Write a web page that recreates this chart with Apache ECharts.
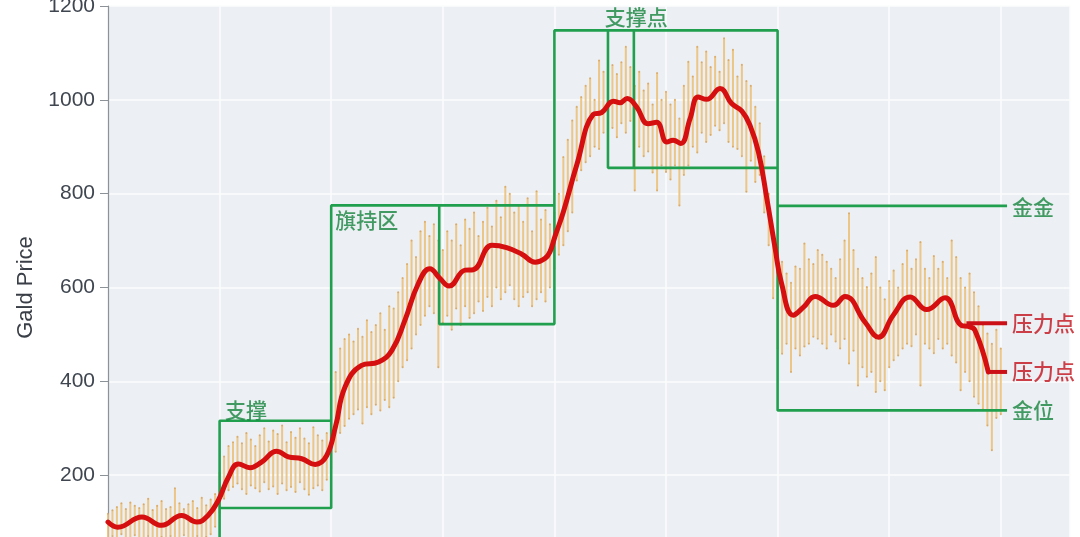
<!DOCTYPE html>
<html><head><meta charset="utf-8">
<script src="https://cdn.jsdelivr.net/npm/echarts@6/dist/echarts.min.js"></script>
<style>html,body{margin:0;padding:0;background:#fff}#c{width:1080px;height:537px}</style>
</head><body><div id="c"></div>
<script>
// ---- data ----
const candleHigh = [
118,125,132,140,128,142,135,130,138,150,126,135,145,128,132,172,140,128,138,145,130,152,136,148,160,
205,240,262,270,282,268,290,276,262,285,300,272,295,288,306,270,292,280,300,278,268,302,285,274,290,
360,420,470,490,500,485,512,495,530,505,520,545,510,560,555,590,620,650,700,665,720,740,710,735,700,
680,720,700,735,690,745,725,760,710,740,770,730,785,750,815,800,760,775,740,790,720,805,745,765,735,
760,800,878,915,956,985,1006,1030,1046,1000,1084,1060,1040,1074,1055,1080,1113,1070,1030,1060,1020,1035,990,1057,1000,
1017,990,1000,960,1030,1081,1050,1113,1080,1103,1070,1092,1060,1131,1085,1107,1050,1075,1040,1030,985,950,880,800,697,
686,655,630,610,645,640,694,660,650,680,670,655,640,620,660,700,758,680,640,620,601,630,665,600,575,
614,636,600,650,679,640,660,697,640,620,667,640,655,620,700,665,620,600,630,590,560,520,502,480,510,470
];
const candleLow = [
62,70,58,74,66,60,72,65,58,70,64,60,68,62,70,58,66,72,60,64,70,62,68,74,90,
120,150,168,175,182,170,160,178,172,165,185,170,176,160,182,168,175,164,185,170,158,172,178,168,190,
215,250,290,305,320,330,340,310,345,330,350,338,360,345,365,400,430,445,470,500,520,540,560,545,430,
525,540,510,555,520,560,535,545,570,550,580,560,600,575,590,605,575,560,580,590,560,575,590,570,600,
640,670,690,720,760,828,850,867,880,900,895,930,915,940,920,950,930,955,807,900,880,890,845,807,860,
846,830,860,775,840,860,900,888,930,910,925,945,935,950,910,900,895,880,804,870,825,840,760,690,577,
470,459,480,420,470,455,474,480,495,491,480,470,500,485,470,490,438,465,391,430,410,420,377,400,381,
430,445,455,470,480,475,500,391,480,470,460,490,470,480,455,440,381,420,400,367,352,340,306,253,322,330
];
const trendX = [0,2.2,7.6,12,16.5,19.9,22.4,24.7,27,29.2,31.8,34.4,37.8,40.4,43.4,46.4,49,51,53.1,56.8,60.6,63.6,66.5,69.5,72.1,74.4,76.4,80,81.8,86,89.3,92.7,95.7,97.9,99,100.1,102,105,108.7,110.6,113.2,114.7,116.3,118.4,121,122.9,125.2,126.6,128.3,130.4,132.2,134.1,137.1,139.7,142,143.8,145.7,147.6,149.4,150.9,153.5,155.8,158.4,162.5,165.1,169.6,172.6,175.9,179.7,183.4,187.5,191.2,192.7,194.2,197.2];
const trendY = [100,89,111,93,114,100,114,146,196,224,216,228,251,239,235,223,242,305,388,434,441,466,530,608,640,619,603,637,638,690,685,671,654,662,676,708,761,861,969,973,997,994,1003,985,949,952,910,914,907,960,1006,1001,1024,992,976,946,889,789,686,608,541,558,581,562,581,526,494,541,580,553,578,519,517,509,420];
const greenPaths = [
  [[25,0],[25,316],[50,316]],
  [[25,130],[50,130],[50,775],[100,775]],
  [[74.2,775],[74.2,522],[100,522],[100,1148],[150,1148],[150,338],[201.4,338]],
  [[112,1148],[112,855],[150,855]],
  [[117.8,1148],[117.8,855]],
  [[150,774],[201.4,774]]
];
const redPaths = [
  [[192.3,524],[201.4,524]],
  [[197.2,420],[201.4,420]]
];
const labelTexts = ['支撑','旗持区','支撑点','金金','压力点','压力点','金位'];
const labelX = [26.2,50.9,111.3,202.5,202.5,202.5,202.5];
const labelY = [338,743,1176,771,524,421,338];
const labelColors = ['#15843d','#15843d','#15843d','#15843d','#c4121b','#c4121b','#15843d'];

// ---- chart ----
const chart = echarts.init(document.getElementById('c'));
const GREEN = '#20a04e';
const series = [];
series.push({
  type:'custom', z:2, silent:true,
  data: candleHigh.map((h,i)=>[i, candleLow[i], h]),
  encode:{x:0, y:[1,2]},
  renderItem:(params, api)=>{
    const x = api.value(0);
    const lo = api.coord([x, api.value(1)]);
    const hi = api.coord([x, api.value(2)]);
    return {type:'group', children:[
      {type:'line', shape:{x1:lo[0],y1:lo[1],x2:hi[0],y2:hi[1]}, style:{stroke:'rgba(236,190,115,0.85)', lineWidth:2}},
      {type:'circle', shape:{cx:lo[0],cy:lo[1],r:1}, style:{fill:'rgba(212,160,90,0.8)'}},
      {type:'circle', shape:{cx:hi[0],cy:hi[1],r:1}, style:{fill:'rgba(212,160,90,0.8)'}}
    ]};
  }
});
greenPaths.forEach(p=>series.push({type:'line', data:p, z:3, silent:true, showSymbol:false, symbol:'none', lineStyle:{color:GREEN, width:2.6}}));
series.push({type:'line', data: trendX.map((x,i)=>[x,trendY[i]]), z:5, smooth:0.45, showSymbol:false, symbol:'none', silent:true,
  lineStyle:{color:'#d50f10', width:5, cap:'round', join:'round'}});
redPaths.forEach(p=>series.push({type:'line', data:p, z:5, silent:true, showSymbol:false, symbol:'none', lineStyle:{color:'#cc1018', width:4}}));
series.push({type:'scatter', z:6, silent:true, symbolSize:2, itemStyle:{color:'transparent'},
  data: labelTexts.map((t,i)=>({value:[labelX[i], labelY[i]],
    label:{show:true, formatter:t, position:'inside', align:'left', verticalAlign:'middle', color:labelColors[i],
      fontSize:21, fontWeight:500, fontFamily:'Noto Sans CJK SC'}}))
});

chart.setOption({
  animation:false,
  backgroundColor:'#ffffff',
  grid:{left:108, right:10, top:6, bottom:-32, outerBoundsMode:'none', containLabel:false, show:true, backgroundColor:'#eceff3', borderWidth:0},
  xAxis:{type:'value', min:0, max:215.5, interval:25,
    axisLine:{show:false}, axisTick:{show:false}, axisLabel:{show:false},
    splitLine:{show:true, lineStyle:{color:'#fbfcfd', width:1.5}}},
  yAxis:{type:'value', min:0, max:1200, interval:200,
    name:'Gald Price', nameLocation:'middle', nameGap:52,
    nameTextStyle:{fontSize:22, color:'#3a3f47', fontFamily:'Liberation Sans'},
    axisLine:{show:true, lineStyle:{color:'#8d9198', width:1.2}},
    axisTick:{show:true, length:8, lineStyle:{color:'#8d9198'}},
    axisLabel:{fontSize:21, color:'#3f4650', margin:13, fontFamily:'Liberation Sans', formatter:v=>String(v)},
    splitLine:{show:true, lineStyle:{color:'#fbfcfd', width:1.5}}},
  series
});
</script></body></html>
